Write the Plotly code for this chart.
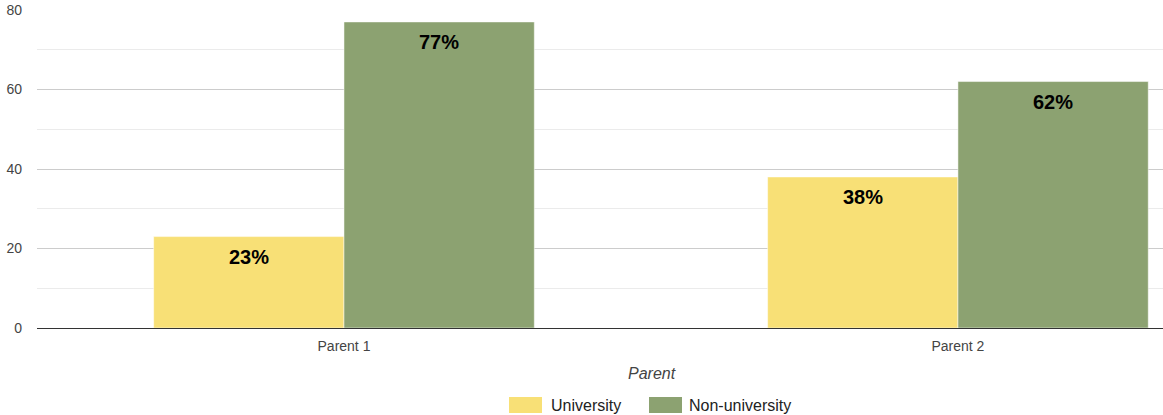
import plotly.graph_objects as go

categories = ["Parent 1", "Parent 2"]
series_names = ["University", "Non-university"]
university = [23, 38]
non_university = [77, 62]
university_labels = ["23%", "38%"]
non_university_labels = ["77%", "62%"]

YELLOW = "#f8e076"
GREEN = "#8ca271"
FONT = "Liberation Sans, Arial, sans-serif"

# plot area geometry in pixels
W, H = 1163, 415
ML, MR, MT, MB = 37, 0, 10, 87
PW, PH = W - ML - MR, H - MT - MB

BARGAP = 0.38
HALF = (1 - BARGAP) / 4  # offset of each bar centre from the category centre


def px_x(px):
    return (px - ML) / PW


def px_y(py):
    return (H - MB - py) / PH


fig = go.Figure()
series = [
    (series_names[0], university, university_labels, YELLOW, -HALF),
    (series_names[1], non_university, non_university_labels, GREEN, HALF),
]
for name, vals, labels, color, off in series:
    fig.add_trace(go.Bar(
        name=name, x=categories, y=vals, showlegend=False,
        marker=dict(color=color, line=dict(color="white", width=0.5)),
    ))
    # value labels just under the top of each bar
    for i, (v, lab) in enumerate(zip(vals, labels)):
        fig.add_annotation(
            x=i + off, y=v, text=f"<b>{lab}</b>", showarrow=False,
            xanchor="center", yanchor="middle", yshift=-20,
            font=dict(family=FONT, size=20, color="black"),
        )

fig.update_layout(
    width=W, height=H,
    margin=dict(l=ML, r=MR, t=MT, b=MB),
    paper_bgcolor="white", plot_bgcolor="white",
    barmode="group", bargap=BARGAP, bargroupgap=0,
    font=dict(family=FONT, size=13, color="#444"),
    showlegend=False,
)

fig.update_xaxes(
    range=[-0.5, 1.334], showgrid=False, ticks="", showline=False,
    ticklabelstandoff=8,
    tickfont=dict(family=FONT, size=14, color="#444"),
)
fig.update_yaxes(
    range=[0, 80], tickvals=[0, 20, 40, 60, 80], showgrid=True,
    gridcolor="#cccccc", gridwidth=1, zeroline=True, zerolinecolor="#333",
    zerolinewidth=1, ticks="", ticklabelstandoff=14,
    tickfont=dict(family=FONT, size=14, color="#444"),
    minor=dict(tickvals=[10, 30, 50, 70], showgrid=True, gridcolor="#ebebeb", gridwidth=1),
)

# x axis title
fig.add_annotation(
    text="<i>Parent</i>", xref="paper", yref="paper",
    x=px_x(652), y=px_y(373), xanchor="center", yanchor="middle", showarrow=False,
    font=dict(family=FONT, size=16, color="#444"),
)

# legend: wide swatches with labels
legend_items = [(series_names[0], YELLOW, 509, 549), (series_names[1], GREEN, 649, 687)]
for name, color, sx, tx in legend_items:
    fig.add_shape(
        type="rect", xref="paper", yref="paper",
        x0=px_x(sx), x1=px_x(sx + 33), y0=px_y(413), y1=px_y(397),
        fillcolor=color, line=dict(width=0),
    )
    fig.add_annotation(
        text=name, xref="paper", yref="paper", x=px_x(tx), y=px_y(405),
        xanchor="left", yanchor="middle", showarrow=False,
        font=dict(family=FONT, size=16, color="#222"),
    )

fig.write_html("out.html")
